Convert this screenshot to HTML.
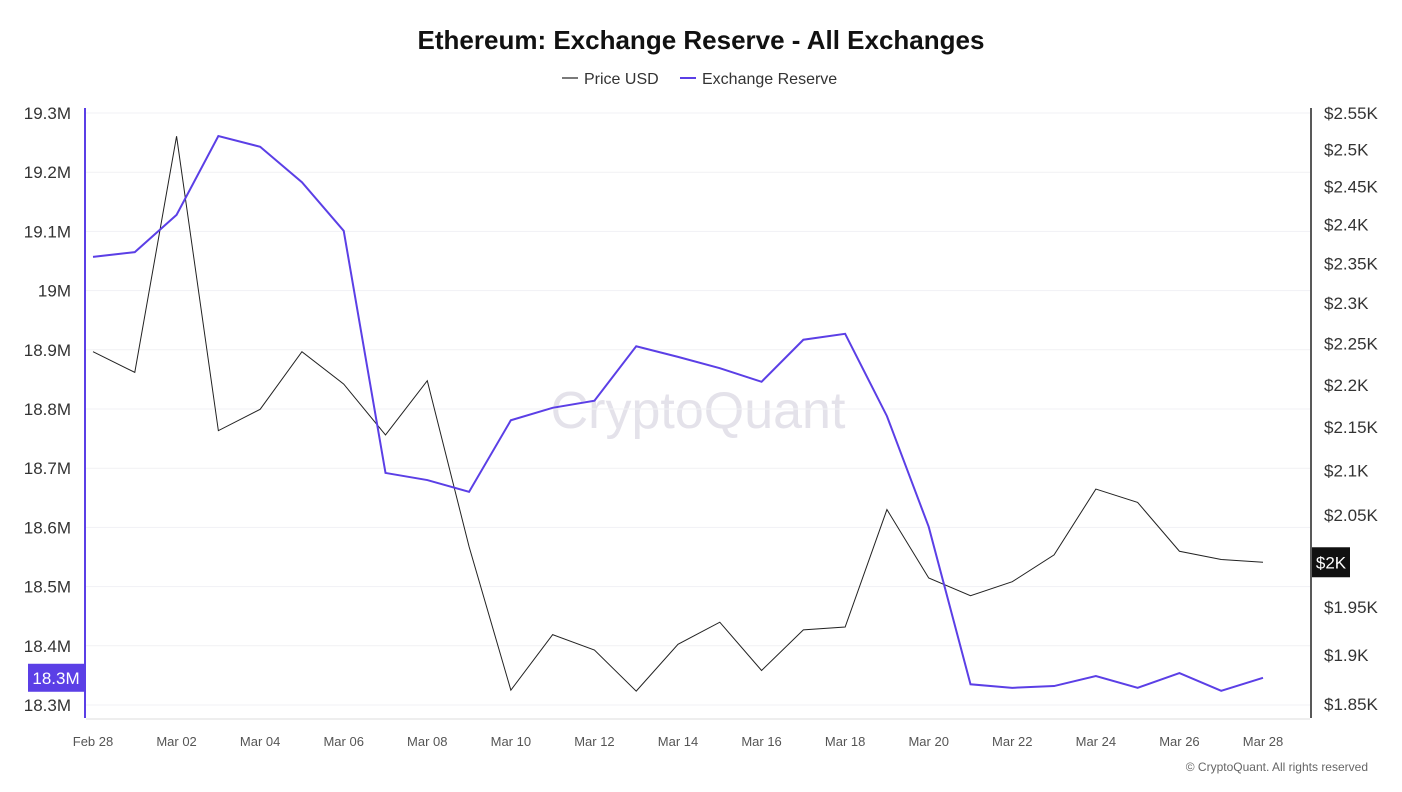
<!DOCTYPE html>
<html><head><meta charset="utf-8"><style>
body{margin:0;background:#fff;font-family:"Liberation Sans",sans-serif}
svg text{font-family:"Liberation Sans",sans-serif}
</style></head><body>
<svg id="c" width="1402" height="787" xmlns="http://www.w3.org/2000/svg">
<text x="701" y="49" text-anchor="middle" font-size="26" font-weight="bold" fill="#111">Ethereum: Exchange Reserve - All Exchanges</text>
<g>
<line x1="562" y1="78" x2="578" y2="78" stroke="#222" stroke-width="1.2"/>
<text x="584" y="84" font-size="16" fill="#333">Price USD</text>
<line x1="680" y1="78" x2="696" y2="78" stroke="#5b3fe6" stroke-width="2"/>
<text x="702" y="84" font-size="16" fill="#333">Exchange Reserve</text>
</g>
<text x="698" y="428" text-anchor="middle" font-size="52" fill="#e4e2ea">CryptoQuant</text>
<g id="grid"></g><g id="axes"></g><g id="series"></g>
<text x="1368" y="771" text-anchor="end" font-size="12" fill="#666">© CryptoQuant. All rights reserved</text>
</svg>
<script>
const dates=["Feb 28","Mar 01","Mar 02","Mar 03","Mar 04","Mar 05","Mar 06","Mar 07","Mar 08","Mar 09","Mar 10","Mar 11","Mar 12","Mar 13","Mar 14","Mar 15","Mar 16","Mar 17","Mar 18","Mar 19","Mar 20","Mar 21","Mar 22","Mar 23","Mar 24","Mar 25","Mar 26","Mar 27","Mar 28"];
const reserve=[19.057,19.065,19.128,19.261,19.243,19.183,19.101,18.692,18.680,18.660,18.781,18.802,18.814,18.906,18.888,18.869,18.846,18.917,18.927,18.788,18.601,18.335,18.329,18.332,18.349,18.329,18.354,18.324,18.346];
const price=[2240,2215,2518,2146,2171,2240,2201,2141,2205,2015,1864,1921,1905,1863,1911,1934,1884,1926,1929,2056,1981,1962,1977,2006,2079,2064,2010,2001,1998];
const leftTicks=[19.3,19.2,19.1,19.0,18.9,18.8,18.7,18.6,18.5,18.4,18.3];
const leftLabels=["19.3M","19.2M","19.1M","19M","18.9M","18.8M","18.7M","18.6M","18.5M","18.4M","18.3M"];
const rightTicks=[2550,2500,2450,2400,2350,2300,2250,2200,2150,2100,2050,1950,1900,1850];
const rightLabels=["$2.55K","$2.5K","$2.45K","$2.4K","$2.35K","$2.3K","$2.25K","$2.2K","$2.15K","$2.1K","$2.05K","$1.95K","$1.9K","$1.85K"];
const xLabelIdx=[0,2,4,6,8,10,12,14,16,18,20,22,24,26,28];

const NS="http://www.w3.org/2000/svg";
const x=i=>93+i*(1263-93)/28;
const yL=v=>113+(19.3-v)/1.0*592;
const yR=v=>113+Math.log10(2550/v)/Math.log10(2550/1850)*591;
function mk(t,a,p){const e=document.createElementNS(NS,t);for(const k in a)e.setAttribute(k,a[k]);p.appendChild(e);return e;}
const grid=document.getElementById('grid'),axes=document.getElementById('axes'),ser=document.getElementById('series');
leftTicks.forEach((v,i)=>{
 const g=mk('line',{x1:86,x2:1310,y1:yL(v),y2:yL(v),stroke:'#f1f1f4'},grid);
 
 
 const t=mk('text',{x:71,y:yL(v)+6,'text-anchor':'end','font-size':17,fill:'#333'},axes);
 t.textContent=leftLabels[i];
 
 
});
rightTicks.forEach((v,i)=>{
 const t=mk('text',{x:1324,y:yR(v)+6,'font-size':17,fill:'#333'},axes);
 t.textContent=rightLabels[i];
 
 
});
xLabelIdx.forEach(i=>{
 const t=mk('text',{x:x(i),y:746,'text-anchor':'middle','font-size':13,fill:'#555'},axes);
 t.textContent=dates[i];
 
 
});
const la=mk('line',{x1:85,x2:85,y1:108,y2:718,stroke:'#5b3fe6','stroke-width':2},axes);


const ra=mk('line',{x1:1311,x2:1311,y1:108,y2:718,stroke:'#222','stroke-width':1.5},axes);


const xa=mk('line',{x1:86,x2:1310,y1:719,y2:719,stroke:'#ddd'},axes);


const pp=mk('polyline',{points:price.map((v,i)=>x(i)+','+yR(v)).join(' '),fill:'none',stroke:'#222','stroke-width':1},ser);


const rp=mk('polyline',{points:reserve.map((v,i)=>x(i)+','+yL(v)).join(' '),fill:'none',stroke:'#5b3fe6','stroke-width':2},ser);


const lr=reserve[reserve.length-1],yl=yL(lr);
const lb=mk('rect',{x:28,y:yl-14,width:56,height:28,fill:'#5b3fe6'},axes);


const lt=mk('text',{x:56,y:yl+6,'text-anchor':'middle','font-size':17,fill:'#fff'},axes);
lt.textContent=lr.toFixed(1)+"M";


const lp=price[price.length-1],yp=yR(lp);
const rb=mk('rect',{x:1312,y:yp-15,width:38,height:30,fill:'#111'},axes);


const rt=mk('text',{x:1331,y:yp+6,'text-anchor':'middle','font-size':17,fill:'#fff'},axes);
rt.textContent="$"+Math.round(lp/1000)+"K";


</script>
</body></html>
